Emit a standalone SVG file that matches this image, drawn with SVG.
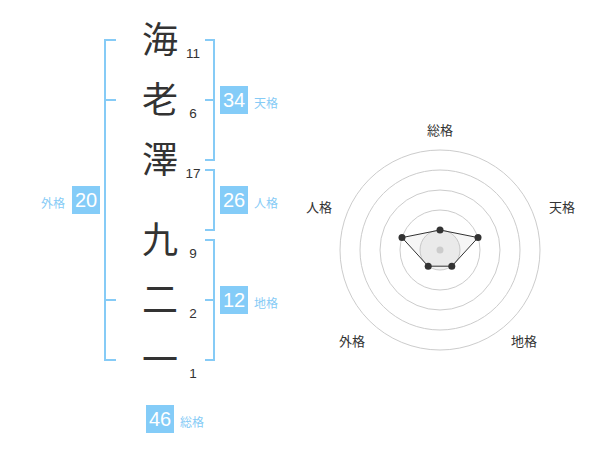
<svg xmlns="http://www.w3.org/2000/svg" width="600" height="470" viewBox="0 0 600 470">
<style>
.ch{font-family:"Noto Sans CJK JP","Noto Sans CJK SC",sans-serif;font-size:36px;fill:#333;text-anchor:middle}
.st{font-family:"Liberation Sans",Arial,sans-serif;font-size:13.5px;fill:#333;text-anchor:middle}
.br{fill:none;stroke:#86cbf6;stroke-width:2}
.bx{fill:#84ccf8}
.bn{font-family:"Liberation Sans",Arial,sans-serif;font-size:20px;fill:#fff;text-anchor:middle}
.bl{font-family:"Noto Sans CJK JP","Noto Sans CJK SC",sans-serif;font-size:12px;fill:#86cbf6}
.rl{font-family:"Noto Sans CJK JP","Noto Sans CJK SC",sans-serif;font-size:13px;fill:#333;text-anchor:middle}
.rc{fill:none;stroke:#cccccc;stroke-width:1}
</style>
<rect width="600" height="470" fill="#fff"/>
<g id="chars">
<text class="ch" x="160" y="53">海</text>
<text class="ch" x="160" y="113">老</text>
<text class="ch" x="160" y="173">澤</text>
<text class="ch" x="160" y="253">九</text>
<text class="ch" x="160" y="313">二</text>
<text class="ch" x="160" y="373">一</text>
</g>
<g id="strokes">
<text class="st" x="193" y="57.5">11</text>
<text class="st" x="193" y="117.5">6</text>
<text class="st" x="193" y="177.5">17</text>
<text class="st" x="193" y="257.5">9</text>
<text class="st" x="193" y="317.5">2</text>
<text class="st" x="193" y="377.5">1</text>
</g>
<g id="connectors">
<path class="br" d="M116,40H105V360H116M105,100H116M105,300H116"/>
<path class="br" d="M205,40H214V160H205M214,100H205"/>
<path class="br" d="M205,170H214V230H205"/>
<path class="br" d="M205,240H214V360H205M214,300H205"/>
</g>
<g id="tenkaku">
<rect class="bx" x="220" y="86" width="28" height="28"/>
<text class="bn" x="234" y="107">34</text>
<text class="bl" x="254" y="108">天格</text>
</g>
<g id="jinkaku">
<rect class="bx" x="220" y="186" width="28" height="28"/>
<text class="bn" x="234" y="207">26</text>
<text class="bl" x="254" y="208">人格</text>
</g>
<g id="chikaku">
<rect class="bx" x="220" y="286" width="28" height="28"/>
<text class="bn" x="234" y="307">12</text>
<text class="bl" x="254" y="308">地格</text>
</g>
<g id="gaikaku">
<rect class="bx" x="72" y="186" width="28" height="28"/>
<text class="bn" x="86" y="207">20</text>
<text class="bl" x="65" y="208" text-anchor="end">外格</text>
</g>
<g id="soukaku">
<rect class="bx" x="146" y="405" width="28" height="28"/>
<text class="bn" x="160" y="426">46</text>
<text class="bl" x="180" y="427">総格</text>
</g>
<g id="radar">
<circle class="rc" cx="440" cy="250" r="100"/>
<circle class="rc" cx="440" cy="250" r="80"/>
<circle class="rc" cx="440" cy="250" r="60"/>
<circle class="rc" cx="440" cy="250" r="40"/>
<circle cx="440" cy="250" r="20" fill="#f2f2f2" stroke="#cccccc" stroke-width="1"/>
<polygon points="440,230 478,237.6 451.8,266.2 428.2,266.2 402,237.6" fill="#aaaaaa" fill-opacity="0.1" stroke="#333" stroke-width="1"/>
<circle cx="440" cy="250" r="3.5" fill="#cccccc"/>
<g fill="#333">
<circle cx="440" cy="230" r="3.5"/>
<circle cx="478" cy="237.6" r="3.5"/>
<circle cx="451.8" cy="266.2" r="3.5"/>
<circle cx="428.2" cy="266.2" r="3.5"/>
<circle cx="402" cy="237.6" r="3.5"/>
</g>
<text class="rl" x="440" y="135">総格</text>
<text class="rl" x="562" y="212">天格</text>
<text class="rl" x="319" y="212">人格</text>
<text class="rl" x="352" y="346">外格</text>
<text class="rl" x="524" y="346">地格</text>
</g>
</svg>
